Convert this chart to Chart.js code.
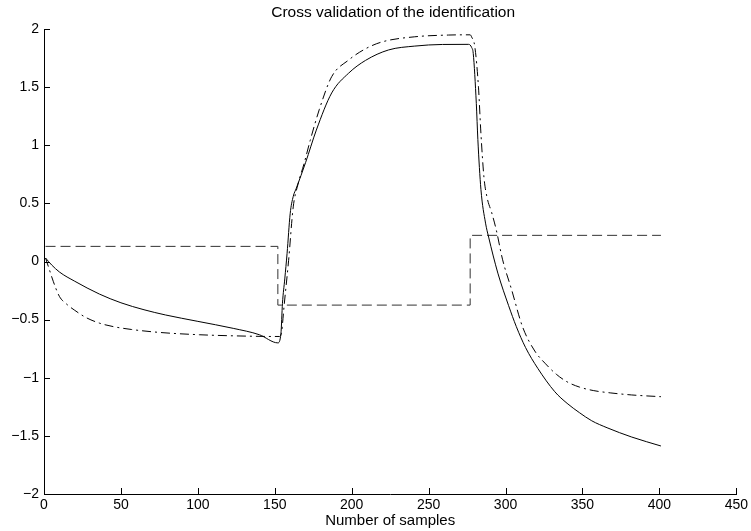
<!DOCTYPE html>
<html>
<head>
<meta charset="utf-8">
<script src="https://cdn.jsdelivr.net/npm/chart.js@4/dist/chart.umd.min.js"></script>
<style>
  body { margin: 0; background: #fff; }
  #wrap { width: 751px; height: 531px; }
</style>
</head>
<body>
<div id="wrap"><canvas id="cv" width="751" height="531"></canvas></div>
<script>
// 数据
const chartTitle = 'Cross validation of the identification';
const xLabel = 'Number of samples';

// 实线：模型输出
const solidX = [1, 5, 10, 20, 36, 50, 65, 79, 100, 123, 140, 152, 154, 155, 156.5, 158, 160, 162, 164, 170, 177, 187, 198, 209, 224, 241, 259, 276, 278, 279, 281, 282, 284, 287, 289, 295, 302, 307, 313, 321, 332, 340, 348, 356, 366, 382, 401];
const solidY = [0.03, -0.03, -0.09, -0.17, -0.28, -0.355, -0.415, -0.46, -0.515, -0.575, -0.63, -0.70, -0.62, -0.36, -0.15, 0.07, 0.41, 0.56, 0.63, 0.85, 1.13, 1.45, 1.62, 1.73, 1.82, 1.853, 1.867, 1.868, 1.84, 1.79, 1.36, 1.05, 0.62, 0.33, 0.21, -0.10, -0.38, -0.56, -0.74, -0.92, -1.12, -1.22, -1.30, -1.37, -1.43, -1.51, -1.587];

// 点划线：实测输出
const dashDotX = [1, 3, 6, 10, 15, 20, 27, 36, 45, 57, 75, 101, 125, 150, 153, 154.5, 156, 159, 162, 165, 169, 173, 179, 187, 198, 209, 220, 241, 263, 277, 278, 280, 282.4, 284, 286, 288, 291, 294, 298, 304, 311, 319, 326, 333, 340, 348, 357, 368, 382, 401];
const dashDotY = [0.03, -0.05, -0.17, -0.30, -0.37, -0.42, -0.48, -0.53, -0.56, -0.585, -0.61, -0.63, -0.64, -0.645, -0.645, -0.60, -0.39, 0.01, 0.47, 0.66, 0.84, 1.04, 1.31, 1.59, 1.733, 1.83, 1.89, 1.933, 1.948, 1.95, 1.93, 1.85, 1.50, 1.10, 0.72, 0.55, 0.42, 0.27, 0.02, -0.245, -0.56, -0.77, -0.88, -0.97, -1.035, -1.08, -1.11, -1.13, -1.148, -1.163];

// 虚线：输入信号（阶跃）
const inputX = [1, 152, 152, 277, 277, 401];
const inputY = [0.13, 0.13, -0.375, -0.375, 0.225, 0.225];

// 坐标轴
const xTicks = [0, 50, 100, 150, 200, 250, 300, 350, 400, 450];
const yTicks = [-2, -1.5, -1, -0.5, 0, 0.5, 1, 1.5, 2];

const FONT = '"Liberation Sans", Arial, Helvetica, sans-serif';

function toPoints(xs, ys) {
    return xs.map((x, i) => ({ x: x, y: ys[i] }));
}

// 标题和向内的刻度线
const framePlugin = {
    id: 'frame',
    afterDraw(chart) {
        const ctx = chart.ctx;
        const area = chart.chartArea;
        const xs = chart.scales.x;
        const ys = chart.scales.y;
        ctx.save();
        ctx.strokeStyle = '#000';
        ctx.lineWidth = 1;
        ctx.beginPath();
        xTicks.forEach(v => {
            const px = Math.round(xs.getPixelForValue(v)) + 0.5;
            ctx.moveTo(px, area.bottom);
            ctx.lineTo(px, area.bottom - 6);
        });
        yTicks.forEach(v => {
            const py = Math.round(ys.getPixelForValue(v)) + 0.5;
            ctx.moveTo(area.left, py);
            ctx.lineTo(area.left + 6, py);
        });
        ctx.stroke();
        ctx.fillStyle = '#000';
        ctx.font = '15.5px ' + FONT;
        ctx.textAlign = 'center';
        ctx.textBaseline = 'middle';
        ctx.fillText(chartTitle, (area.left + area.right) / 2 + 3, 13);
        ctx.restore();
    }
};

const ctx = document.getElementById('cv');
new Chart(ctx.getContext('2d'), {
    type: 'line',
    data: {
        datasets: [
            {
                data: toPoints(solidX, solidY),
                borderColor: '#000',
                borderWidth: 1,
                pointRadius: 0,
                cubicInterpolationMode: 'monotone',
                fill: false
            },
            {
                data: toPoints(dashDotX, dashDotY),
                borderColor: '#000',
                borderWidth: 1,
                borderDash: [9, 4, 2, 4],
                pointRadius: 0,
                cubicInterpolationMode: 'monotone',
                fill: false
            },
            {
                data: toPoints(inputX, inputY),
                borderColor: '#333',
                borderWidth: 1,
                borderDash: [10, 5],
                pointRadius: 0,
                tension: 0,
                fill: false
            }
        ]
    },
    options: {
        responsive: false,
        animation: false,
        events: [],
        layout: { padding: { top: 29, right: 12, left: 0, bottom: 0 } },
        plugins: {
            legend: { display: false },
            title: { display: false },
            tooltip: { enabled: false }
        },
        scales: {
            x: {
                type: 'linear',
                min: 0,
                max: 450,
                afterFit: s => { s.height = 37; },
                afterBuildTicks: s => { s.ticks = xTicks.map(v => ({ value: v })); },
                grid: { drawOnChartArea: false, drawTicks: false },
                border: { display: true, color: '#000', width: 1 },
                ticks: {
                    padding: 3,
                    color: '#000',
                    font: { family: FONT, size: 14 },
                    maxRotation: 0
                },
                title: {
                    display: true,
                    text: xLabel,
                    color: '#000',
                    font: { family: FONT, size: 15 },
                    padding: { top: 0, bottom: 1 }
                }
            },
            y: {
                type: 'linear',
                min: -2,
                max: 2,
                afterFit: s => { s.width = 44; },
                afterBuildTicks: s => { s.ticks = yTicks.map(v => ({ value: v })); },
                grid: { drawOnChartArea: false, drawTicks: false },
                border: { display: true, color: '#000', width: 1 },
                ticks: {
                    padding: 5,
                    color: '#000',
                    font: { family: FONT, size: 14 },
                    callback: v => (v < 0 ? '\u2212' + Math.abs(v) : String(v))
                }
            }
        }
    },
    plugins: [framePlugin]
});
</script>
</body>
</html>
